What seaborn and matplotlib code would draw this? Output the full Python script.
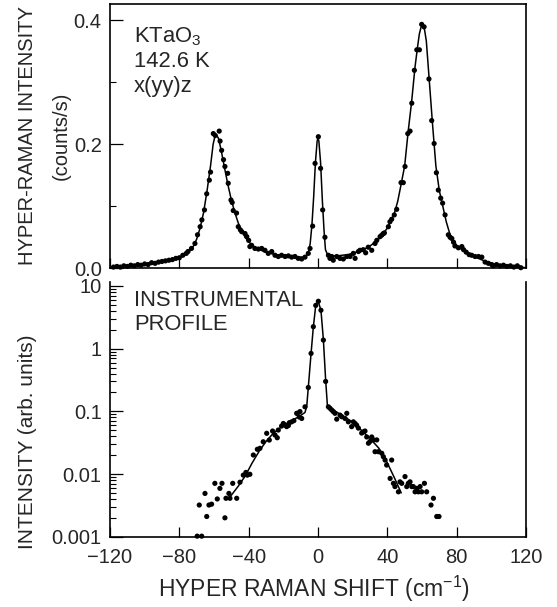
import numpy as np
import pandas as pd
import matplotlib
matplotlib.use("Agg")
import matplotlib.pyplot as plt
from matplotlib.ticker import FixedLocator, FuncFormatter, LogLocator, NullFormatter
import seaborn as sns

# ---------------- data ----------------
top_x = [-118, -116, -114, -112, -110, -108, -106, -104, -102, -100, -98, -96, -94, -92, -90, -88, -86, -84,
         -82, -80, -78, -76, -75, -73, -71, -69.5, -68, -67, -65.5, -64.2, -62.7, -62, -60.4, -59.3, -57,
         -56.5, -55.6, -54.5, -53.7, -52.1, -51.8, -50.2, -49.5, -48.9, -47, -46, -44.8, -44, -42.1, -41.1,
         -40, -39.3, -38.3, -36.4, -34.4, -32.5, -30.6, -28.7, -26.7, -24.8, -22.9, -21, -19, -17.1, -15.2,
         -13.3, -11.4, -9.4, -7.5, -5.6, -4.6, -3.1, -1.7, 0.2, 1.5, 2.7, 4, 6, 6.9, 7.9, 8.8, 10.8, 12.7,
         14.6, 16.6, 18.5, 20.4, 21.4, 23.3, 24.2, 26.1, 27.5, 29, 31, 32.9, 33.9, 35.8, 36.8, 37.7, 38.3,
         40.6, 41.5, 42.5, 44, 45.4, 47.9, 49.2, 50.2, 51.8, 53.1, 54.1, 55.6, 57, 58.5, 59.8, 61.2, 64,
         65.6, 67, 68.3, 69.4, 70.8, 71.9, 73.3, 75.2, 76.2, 77.2, 78.2, 79, 81, 83, 84, 85.5, 87.2, 88.7,
         90.6, 92.6, 94.5, 96.4, 98.3, 100.2, 101.2, 103, 105, 107, 109, 111, 113, 115, 117]
top_y = [0.002, 0.003, 0.002, 0.004, 0.003, 0.005, 0.004, 0.006, 0.005, 0.007, 0.006, 0.009, 0.008, 0.010,
         0.011, 0.012, 0.013, 0.014, 0.016, 0.017, 0.021, 0.024, 0.027, 0.032, 0.040, 0.054, 0.067, 0.078,
         0.094, 0.120, 0.142, 0.155, 0.217, 0.214, 0.221, 0.205, 0.190, 0.175, 0.164, 0.153, 0.137, 0.110,
         0.106, 0.093, 0.089, 0.067, 0.062, 0.059, 0.056, 0.051, 0.045, 0.035, 0.037, 0.032, 0.031, 0.032,
         0.029, 0.024, 0.027, 0.021, 0.019, 0.021, 0.019, 0.020, 0.018, 0.019, 0.016, 0.015, 0.018, 0.024,
         0.032, 0.068, 0.169, 0.212, 0.161, 0.094, 0.050, 0.021, 0.016, 0.019, 0.013, 0.019, 0.016, 0.015,
         0.019, 0.019, 0.024, 0.016, 0.027, 0.029, 0.030, 0.025, 0.034, 0.029, 0.040, 0.045, 0.051, 0.0535,
         0.056, 0.057, 0.067, 0.075, 0.079, 0.086, 0.095, 0.138, 0.138, 0.164, 0.217, 0.221, 0.266, 0.319,
         0.352, 0.352, 0.393, 0.389, 0.305, 0.238, 0.201, 0.154, 0.126, 0.113, 0.105, 0.086, 0.054, 0.050,
         0.048, 0.042, 0.036, 0.033, 0.035, 0.030, 0.026, 0.022, 0.021, 0.019, 0.019, 0.018, 0.010, 0.008,
         0.006, 0.004, 0.006, 0.004, 0.005, 0.003, 0.004, 0.002, 0.004, 0.001]

fit_x = [-120, -115, -110, -105, -100, -95, -90, -85, -82, -80, -78, -76, -74, -72, -70, -68, -66, -64, -62,
         -60.5, -59.5, -58.5, -57.5, -56, -54, -52, -50, -48, -46, -44, -42, -40, -38, -35, -32, -29, -26,
         -23, -20, -16, -12, -9, -7, -5.5, -4.5, -3.5, -2.5, -1.5, -0.5, 0, 0.5, 1.5, 2.5, 3.5, 4.3, 5.5,
         8, 11, 14, 17, 20, 23, 26, 29, 32, 34, 36, 38, 40, 42, 44, 46, 48, 50, 52, 54, 56, 57.5, 58.5,
         59.5, 60.5, 61.5, 62.5, 64, 66, 68, 70, 72, 74, 76, 78, 80, 83, 86, 90, 95, 100, 105, 110, 115, 120]
fit_y = [0.001, 0.003, 0.004, 0.005, 0.007, 0.009, 0.011, 0.013, 0.015, 0.017, 0.020, 0.024, 0.029, 0.035,
         0.047, 0.065, 0.090, 0.125, 0.165, 0.200, 0.212, 0.214, 0.210, 0.192, 0.163, 0.135, 0.110, 0.090,
         0.073, 0.060, 0.050, 0.043, 0.037, 0.032, 0.028, 0.025, 0.023, 0.021, 0.020, 0.019, 0.018, 0.018,
         0.019, 0.025, 0.040, 0.070, 0.115, 0.170, 0.205, 0.210, 0.205, 0.170, 0.110, 0.060, 0.030, 0.022,
         0.020, 0.020, 0.021, 0.022, 0.024, 0.027, 0.030, 0.034, 0.040, 0.044, 0.050, 0.057, 0.065, 0.076,
         0.088, 0.108, 0.136, 0.165, 0.220, 0.268, 0.325, 0.358, 0.378, 0.389, 0.391, 0.384, 0.366, 0.310,
         0.235, 0.165, 0.125, 0.100, 0.075, 0.056, 0.045, 0.037, 0.030, 0.024, 0.019, 0.013, 0.008, 0.005,
         0.003, 0.002, 0.001]

inst_x = [-69.7, -68.5, -67.1, -65.2, -64.2, -62.9, -61.4, -59.5, -58.1, -56.6, -55.4, -53.7, -53.1, -51.4,
          -50.8, -49.2, -46.9, -45.0, -43.1, -41.6, -40.8, -39.3, -37.3, -35.0, -33.5, -31.6, -29.6, -28.1,
          -26.2, -24.8, -23.5, -22.9, -21.0, -20.0, -19.0, -18.1, -17.1, -16.5, -15.2, -13.9, -12.3, -11.9,
          -10.8, -10.4, -9.4, -7.5, -5.6, -4.0, -2.7, -1.3, 0.2, 1.7, 3.1, 4.4, 6.0, 6.9, 7.9, 8.85, 9.8,
          10.8, 12.7, 13.7, 15.6, 16.6, 17.5, 19.4, 20.4, 21.4, 22.3, 23.3, 25.2, 26.2, 27.1, 28.1, 29.1,
          30.0, 31.0, 32.0, 32.9, 33.9, 34.8, 36.8, 37.7, 38.7, 39.6, 41.6, 42.5, 43.5, 44.4, 46.4, 47.3,
          48.3, 50.2, 51.2, 52.1, 53.1, 54.1, 55.0, 56.0, 57.0, 57.9, 58.9, 59.8, 61.4, 62.7, 65.2, 66.6,
          68.5, 69.8]
inst_y = [0.00102, 0.0032, 0.00102, 0.0049, 0.0021, 0.0032, 0.0033, 0.0071, 0.0040, 0.0059, 0.0071, 0.0020,
          0.0041, 0.0049, 0.0041, 0.0071, 0.0041, 0.0074, 0.0096, 0.0106, 0.0096, 0.0099, 0.0201, 0.0248,
          0.0257, 0.0327, 0.0446, 0.0348, 0.0485, 0.0419, 0.0379, 0.0503, 0.0583, 0.064, 0.0607, 0.057,
          0.0593, 0.066, 0.068, 0.071, 0.093, 0.093, 0.081, 0.099, 0.077, 0.118, 0.24, 0.84, 2.24, 4.9, 5.7,
          4.1, 1.37, 0.30, 0.118, 0.112, 0.105, 0.099, 0.093, 0.075, 0.087, 0.082, 0.077, 0.093, 0.068,
          0.057, 0.068, 0.064, 0.060, 0.054, 0.045, 0.047, 0.0485, 0.039, 0.031, 0.033, 0.039, 0.035,
          0.0227, 0.035, 0.0227, 0.0214, 0.0189, 0.0167, 0.0139, 0.0085, 0.0167, 0.0071, 0.0063, 0.0052,
          0.0075, 0.0071, 0.0091, 0.0063, 0.0071, 0.0075, 0.0063, 0.0063, 0.0052, 0.0059, 0.0052, 0.0063,
          0.0052, 0.0071, 0.0052, 0.0032, 0.0041, 0.0021, 0.0021]

inst_fit_x = [-50.5, -46, -42, -38, -34, -30, -26, -22, -18, -14, -10, -7.5, -6.5, -5.6, -4.0, -2.7, -1.3,
              0, 1.7, 3.1, 4.4, 5.4, 10, 15, 20, 25, 30, 35, 38, 40, 44, 48]
inst_fit_y = [0.0044, 0.0064, 0.0093, 0.0150, 0.0230, 0.0330, 0.0440, 0.0540, 0.0640, 0.0740, 0.0860,
              0.0960, 0.120, 0.24, 0.84, 2.2, 4.9, 5.8, 4.1, 1.4, 0.32, 0.126, 0.100, 0.083, 0.067, 0.050,
              0.037, 0.026, 0.0195, 0.0150, 0.0088, 0.0050]

x_ticks = [-120, -80, -40, 0, 40, 80, 120]
top_major = [0.0, 0.2, 0.4]
top_minor = [0.1, 0.3]
log_major = [0.001, 0.01, 0.1, 1, 10]

# ---------------- style ----------------
sns.set_theme(style="ticks")
plt.rcParams["font.family"] = ["Liberation Sans", "DejaVu Sans"]
plt.rcParams["mathtext.fontset"] = "custom"
plt.rcParams["mathtext.rm"] = "Liberation Sans"
plt.rcParams["mathtext.it"] = "Liberation Sans"
plt.rcParams["mathtext.default"] = "regular"

W, H = 557, 607
fig = plt.figure(figsize=(W / 100, H / 100), dpi=100)
fig.patch.set_facecolor("white")

L, R = 110, 526
ax1 = fig.add_axes([L / W, 1 - 268.3 / H, (R - L) / W, 264.3 / H])
ax2 = fig.add_axes([L / W, 1 - 536.7 / H, (R - L) / W, 255.0 / H])

df_top = pd.DataFrame({"x": top_x, "y": top_y})
df_fit = pd.DataFrame({"x": fit_x, "y": fit_y})
df_inst = pd.DataFrame({"x": inst_x, "y": inst_y})
df_ifit = pd.DataFrame({"x": inst_fit_x, "y": inst_fit_y})

sns.lineplot(data=df_fit, x="x", y="y", ax=ax1, color="black", lw=1.1, sort=False)
sns.scatterplot(data=df_top, x="x", y="y", ax=ax1, color="black", s=14, edgecolor="none", clip_on=False)
sns.lineplot(data=df_ifit, x="x", y="y", ax=ax2, color="black", lw=1.1, sort=False)
sns.scatterplot(data=df_inst, x="x", y="y", ax=ax2, color="black", s=14, edgecolor="none", clip_on=False)

tick_fs = 14.5
for ax in (ax1, ax2):
    ax.set_xlim(-120, 120)
    ax.set_xlabel("")
    ax.set_ylabel("")
    ax.set_facecolor("white")
    for s in ax.spines.values():
        s.set_linewidth(1.2)
        s.set_color("black")
    ax.tick_params(axis="x", direction="in", length=7, width=0.9, color="black",
                   labelsize=tick_fs, pad=8, top=False)
    ax.tick_params(axis="y", which="major", direction="in", length=9, width=0.9, color="black",
                   labelsize=tick_fs, pad=6, right=False)
    ax.tick_params(axis="y", which="minor", direction="in", length=4.5, width=0.8, color="black",
                   right=False)

# top panel
ax1.set_ylim(0, 0.4258)
ax1.xaxis.set_major_locator(FixedLocator(x_ticks))
ax1.tick_params(axis="x", labelbottom=False)
ax1.yaxis.set_major_locator(FixedLocator(top_major))
ax1.yaxis.set_minor_locator(FixedLocator(top_minor))
ax1.yaxis.set_major_formatter(FuncFormatter(lambda v, p: f"{v:.1f}"))
ann_fs = 15.8
ax1.text(0.058, 0.918, "KTaO$_3$", transform=ax1.transAxes, fontsize=ann_fs, va="top", ha="left")
ax1.text(0.058, 0.822, "142.6 K", transform=ax1.transAxes, fontsize=ann_fs, va="top", ha="left")
ax1.text(0.058, 0.726, "x(yy)z", transform=ax1.transAxes, fontsize=ann_fs, va="top", ha="left")

# bottom panel
ax2.set_yscale("log")
ax2.set_ylim(0.001, 11.7)
ax2.spines["top"].set_visible(False)
ax2.xaxis.set_major_locator(FixedLocator(x_ticks))
ax2.yaxis.set_major_locator(FixedLocator(log_major))
ax2.yaxis.set_minor_locator(LogLocator(base=10, subs=np.arange(2, 10)))
ax2.yaxis.set_minor_formatter(NullFormatter())
ax2.yaxis.set_major_formatter(FuncFormatter(lambda v, p: f"{v:g}"))
ax2.text(0.058, 0.967, "INSTRUMENTAL", transform=ax2.transAxes, fontsize=ann_fs, va="top", ha="left")
ax2.text(0.058, 0.872, "PROFILE", transform=ax2.transAxes, fontsize=ann_fs, va="top", ha="left")

# axis labels
fig.text(28 / W, 1 - 136 / H, "HYPER-RAMAN INTENSITY", rotation=90, ha="center", va="center", fontsize=14.5)
fig.text(61 / W, 1 - 136 / H, "(counts/s)", rotation=90, ha="center", va="center", fontsize=14.5)
fig.text(28 / W, 1 - 442 / H, "INTENSITY (arb. units)", rotation=90, ha="center", va="center", fontsize=15)
fig.text(314 / W, 1 - 589 / H, "HYPER RAMAN SHIFT (cm$^{-1}$)", ha="center", va="center", fontsize=16.5)

fig.savefig("out.png", dpi=100, facecolor="white")
